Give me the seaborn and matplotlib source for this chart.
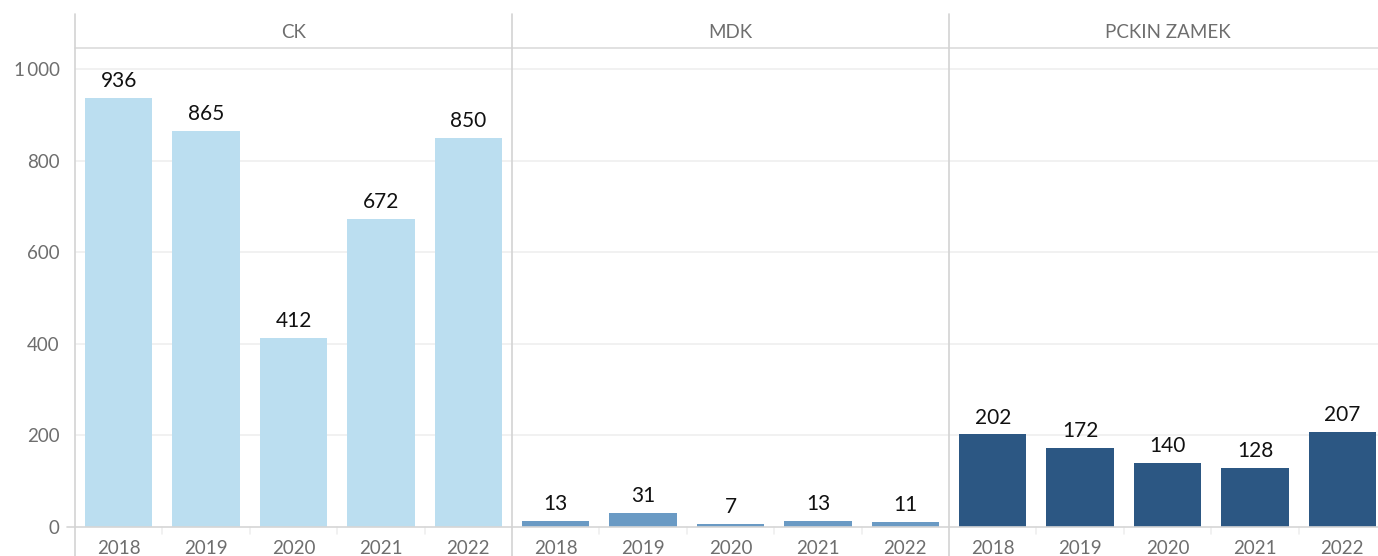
import matplotlib
matplotlib.use("Agg")
import matplotlib.pyplot as plt
from matplotlib.lines import Line2D
import seaborn as sns
import pandas as pd

# Values per institution and year
years = ["2018", "2019", "2020", "2021", "2022"]
panels = ["CK", "MDK", "PCKIN ZAMEK"]
ck_values = [936, 865, 412, 672, 850]
mdk_values = [13, 31, 7, 13, 11]
zamek_values = [202, 172, 140, 128, 207]
panel_colors = ["#BBDEF0", "#6A9AC4", "#2C5783"]
y_ticks = [0, 200, 400, 600, 800, 1000]
y_tick_labels = ["0", "200", "400", "600", "800", "1\u2009000"]

sns.set_theme(style="white")
plt.rcParams["font.family"] = ["Lato", "DejaVu Sans"]

W, H = 1378, 556
fig = plt.figure(figsize=(W / 100, H / 100), dpi=100)
fig.patch.set_facecolor("white")

GRID = "#EFEFEF"
SEP = "#D3D3D3"
TXT = "#6E6E6E"

# panel edges in pixels; the last panel runs slightly past the right edge
left_px = [75, 512, 949]
right_px = [512, 949, 1386]
top_px, base_px, head_top = 48, 527, 14
ymax = 1000 * (base_px - top_px) / (base_px - 69)

def fx(px):
    return px / W

def fy(py):
    return 1 - py / H

series = [ck_values, mdk_values, zamek_values]
for i, (name, vals, col) in enumerate(zip(panels, series, panel_colors)):
    ax = fig.add_axes([fx(left_px[i]), fy(base_px), fx(right_px[i] - left_px[i]),
                       (base_px - top_px) / H])
    df = pd.DataFrame({"year": years, "value": vals})
    sns.barplot(data=df, x="year", y="value", color=col, width=0.77,
                saturation=1, ax=ax, edgecolor="none")
    ax.set_ylim(0, ymax)
    ax.set_xlim(-0.5, 4.5)
    ax.set_yticks(y_ticks)
    for yt in y_ticks[1:]:
        ax.axhline(yt, color=GRID, lw=1.2, zorder=0)
    ax.set_axisbelow(True)
    for s in ax.spines.values():
        s.set_visible(False)
    ax.set_xlabel("")
    ax.set_ylabel("")
    ax.tick_params(axis="x", length=0, pad=9, labelsize=13.5, labelcolor=TXT)
    if i == 0:
        ax.set_yticklabels(y_tick_labels)
        ax.tick_params(axis="y", length=7, width=1, color=GRID, pad=4,
                       labelsize=13.5, labelcolor=TXT)
    else:
        ax.tick_params(axis="y", length=0, labelleft=False)
    for c in ax.containers:
        ax.bar_label(c, labels=[str(v) for v in vals], padding=5,
                     fontsize=15, color="#111111")
    # small separators between year categories on the baseline
    for b in [0.5, 1.5, 2.5, 3.5]:
        ax.plot([b, b], [0, -0.015 * ymax], color=GRID, lw=1.2,
                clip_on=False, zorder=1)
    ax.text(0.5, (top_px - 32) / (base_px - top_px) + 1, name,
            transform=ax.transAxes, ha="center", va="center",
            fontsize=13.5, color=TXT)

# baseline, header rule and panel separators
fig.add_artist(Line2D([fx(67), 1], [fy(base_px), fy(base_px)], color="#D6D6D6", lw=1.2))
fig.add_artist(Line2D([fx(75), 1], [fy(top_px), fy(top_px)], color="#DCDCDC", lw=1.2))
for px in left_px:
    fig.add_artist(Line2D([fx(px), fx(px)], [fy(head_top), 0], color=SEP, lw=1.2))

fig.savefig("out.png", dpi=100, facecolor="white")
